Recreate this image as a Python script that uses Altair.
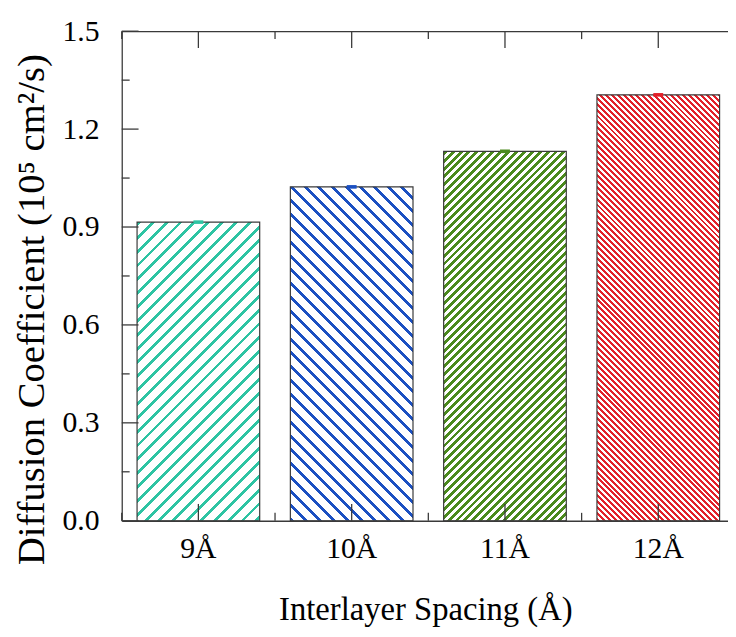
import altair as alt
import pandas as pd

# ---------------- data ----------------
spacing = ["9Å", "10Å", "11Å", "12Å"]
diffusion = [0.915, 1.023, 1.132, 1.305]
errors = [0.0055, 0.0055, 0.0055, 0.0055]
bar_colors = ["#2EC4A3", "#1B50C2", "#4B8A1D", "#E2222B"]
hatch_dirs = ["/", "\\", "/", "\\"]
hatch_periods = [14, 14, 8, 6]
hatch_widths = [4, 4, 4, 3]
y_major = [0.0, 0.3, 0.6, 0.9, 1.2, 1.5]
y_minor = [0.15, 0.45, 0.75, 1.05, 1.35]

# ---------------- layout / style ----------------
FONT = "Liberation Serif"
W, H = 613, 495
X_RANGE = 620
PAD_INNER, PAD_OUTER = 0.2, 0.1
Y_MAX = 1.5
FRAME = "#3a3a3a"
LW = 1.3
MAJOR, MINOR = 17, 8

df = pd.DataFrame({"spacing": spacing, "value": diffusion, "err": errors})
df["lo"] = df["value"] - df["err"]
df["hi"] = df["value"] + df["err"]

step = X_RANGE / (len(spacing) - PAD_INNER + 2 * PAD_OUTER)
bw = step * (1 - PAD_INNER)


def hatch(color, direction, period, width, w, h, phase=0.3):
    L = w + h
    k = L / (w * w + h * h)
    a, b = k * w, k * h
    stops = [{"offset": 0.0, "color": "white"}]
    s = phase
    while s < L:
        o0 = s / L
        o1 = min((s + width) / L, 1.0)
        stops += [
            {"offset": o0, "color": "white"},
            {"offset": o0, "color": color},
            {"offset": o1, "color": color},
            {"offset": o1, "color": "white"},
        ]
        s += period
    stops.append({"offset": 1.0, "color": "white"})
    if direction == "/":
        return {"gradient": "linear", "stops": stops, "x1": 0, "y1": 0, "x2": a, "y2": b}
    return {"gradient": "linear", "stops": stops, "x1": 0, "y1": 1, "x2": a, "y2": 1 - b}


x_scale = alt.Scale(domain=spacing, range=[0, X_RANGE],
                    paddingInner=PAD_INNER, paddingOuter=PAD_OUTER)
y_scale = alt.Scale(domain=[0, Y_MAX], nice=False, zero=True)

frame_common = dict(labels=False, title=None, grid=False, ticks=False, tickSize=0,
                    domainColor=FRAME, domainWidth=LW, zindex=1)

# bottom labels + title
axis_xa = alt.Axis(orient="bottom", ticks=False, tickSize=0, domain=False, grid=False,
                   labelFont=FONT, labelFontSize=30, labelColor="black",
                   labelPadding=37, labelBaseline="alphabetic", labelAngle=0,
                   title="Interlayer Spacing (Å)", titleFont=FONT, titleFontSize=33,
                   titleFontWeight="normal", titleColor="black", titleX=307, titleY=100,
                   titleBaseline="alphabetic", titleAlign="center")
# bottom frame line
axis_xb = alt.Axis(orient="top", offset=-H, domain=True, **frame_common)
# top frame line
axis_xd = alt.Axis(orient="bottom", offset=-H, domain=True, **frame_common)

# left labels + title + frame
axis_yf = alt.Axis(orient="left", values=y_major, format=".1f", ticks=False, tickSize=0,
                   domain=True, domainColor=FRAME, domainWidth=LW, grid=False,
                   labelFont=FONT, labelFontSize=30, labelColor="black", labelPadding=23,
                   title="Diffusion Coefficient (10⁵ cm²/s)", titleFont=FONT,
                   titleFontSize=39, titleFontWeight="normal", titleColor="black",
                   titleAngle=270, titleX=-79, titleY=281, titleAlign="center",
                   titleBaseline="alphabetic")

x_axes = [axis_xa, axis_xb, axis_xd, None]
y_axes = [axis_yf, None, None, None]

layers = []
for i, cat in enumerate(spacing):
    h = diffusion[i] / Y_MAX * H
    grad = hatch(bar_colors[i], hatch_dirs[i], hatch_periods[i], hatch_widths[i], bw, h)
    layers.append(
        alt.Chart(df)
        .transform_filter(alt.datum.spacing == cat)
        .mark_bar(fill=grad, stroke=FRAME, strokeWidth=1.2)
        .encode(
            x=alt.X("spacing:N", scale=x_scale, axis=x_axes[i]),
            y=alt.Y("value:Q", scale=y_scale, axis=y_axes[i]),
        )
    )

# error bars (tiny caps)
layers.append(
    alt.Chart(df)
    .mark_bar(width=10)
    .encode(
        x=alt.X("spacing:N", scale=x_scale, axis=None),
        y=alt.Y("lo:Q", scale=y_scale, axis=None),
        y2="hi:Q",
        color=alt.Color("spacing:N", scale=alt.Scale(domain=spacing, range=bar_colors),
                        legend=None),
    )
)

# inward ticks on the left frame
ymaj_df = pd.DataFrame({"v": y_major})
ymin_df = pd.DataFrame({"v": y_minor})
for tdf, ln in ((ymaj_df, MAJOR), (ymin_df, MINOR)):
    layers.append(
        alt.Chart(tdf)
        .mark_tick(orient="horizontal", size=ln, thickness=LW, color=FRAME, opacity=1)
        .encode(y=alt.Y("v:Q", scale=y_scale, axis=None),
                x=alt.value(ln / 2))
    )

# inward ticks on the bottom and top frames (major at band centres, minor between)
for y0, sign in ((H, -1), (0, 1)):
    for ln, off in ((MAJOR, 0), (MINOR, -step / 2)):
        layers.append(
            alt.Chart(df)
            .mark_tick(orient="vertical", size=ln, thickness=LW, color=FRAME,
                       opacity=1, xOffset=off)
            .encode(x=alt.X("spacing:N", scale=x_scale, axis=None),
                    y=alt.value(y0 + sign * ln / 2))
        )

chart = (
    alt.layer(*layers)
    .resolve_axis(x="independent", y="independent")
    .properties(width=W, height=H,
                autosize=alt.AutoSizeParams(type="none"),
                padding={"left": 115, "top": 20, "right": 0, "bottom": 106})
    .configure_view(strokeOpacity=0)
)

chart.save("out.html", embed_options={"renderer": "svg", "actions": False})
